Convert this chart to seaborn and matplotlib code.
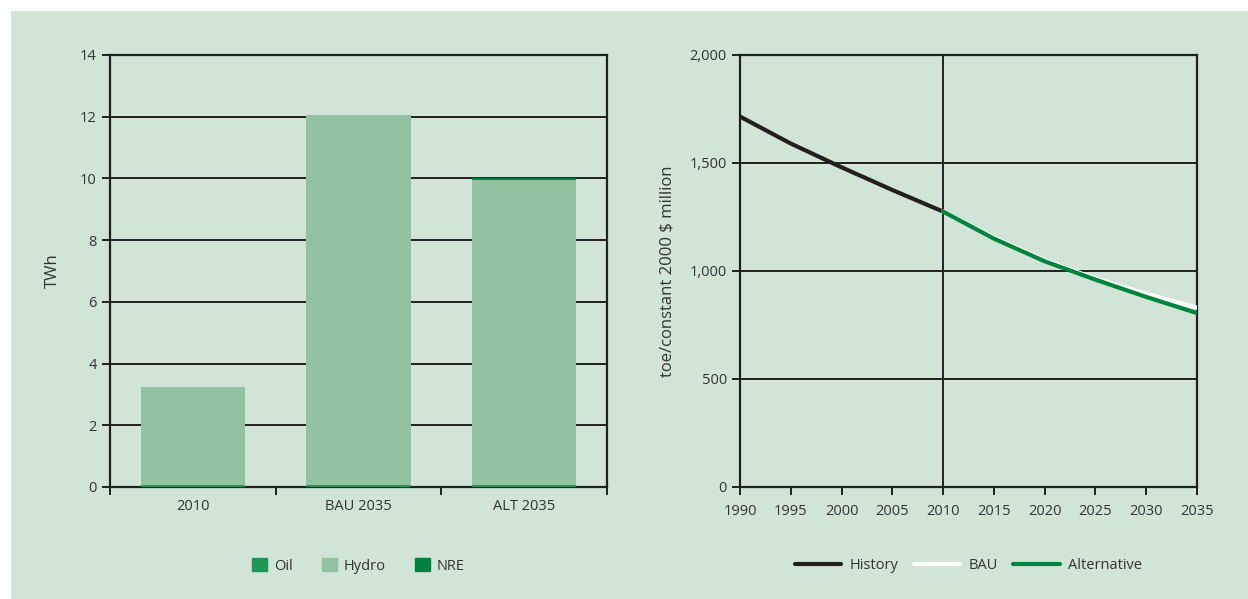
import matplotlib.pyplot as plt
import matplotlib.patches as mpatches
from matplotlib.lines import Line2D
from matplotlib.ticker import FuncFormatter
import seaborn as sns
import pandas as pd

# left panel: generation by source (TWh)
cases = ["2010", "BAU 2035", "ALT 2035"]
oil = [0.05, 0.05, 0.05]
hydro = [3.2, 12.0, 9.9]
nre = [0.0, 0.0, 0.06]

# right panel: energy intensity
hist_years = [1990, 1995, 2000, 2005, 2010]
hist_vals = [1715, 1590, 1480, 1375, 1275]
proj_years = [2010, 2015, 2020, 2025, 2030, 2035]
bau_vals = [1275, 1155, 1050, 965, 895, 830]
alt_vals = [1275, 1150, 1045, 960, 880, 805]

bg = "#D1E5D6"
c_oil = "#1E9656"
c_hydro = "#92C2A0"
c_nre = "#00833E"
c_alt = "#00843D"
ink = "#231F20"
txt = "#333333"

sns.set_style("white")
plt.rcParams["font.family"] = ["Open Sans", "DejaVu Sans"]
plt.rcParams["font.size"] = 10.5

fig = plt.figure(figsize=(12.48, 5.99), dpi=100, facecolor="white")
fig.add_artist(mpatches.Rectangle((11 / 1248, 0), 1, 1 - 11 / 599,
                                  transform=fig.transFigure,
                                  facecolor=bg, edgecolor="none", zorder=-10))

ax1 = fig.add_axes([110 / 1248, 1 - 487 / 599, 497 / 1248, 432 / 599])
ax2 = fig.add_axes([740 / 1248, 1 - 487 / 599, 457 / 1248, 432 / 599])

for ax in (ax1, ax2):
    ax.set_facecolor(bg)
    for s in ax.spines.values():
        s.set_color(ink)
        s.set_linewidth(1.6)
    ax.tick_params(left=True, bottom=True, colors=ink, labelcolor=txt,
                   labelsize=10.5, width=1.4, length=6)

# stacked bars drawn from the total downward
df = pd.DataFrame({"case": cases, "oil": oil, "hydro": hydro, "nre": nre})
df["t_hydro"] = df["oil"] + df["hydro"]
df["t_nre"] = df["t_hydro"] + df["nre"]
for col, colr in [("t_nre", c_nre), ("t_hydro", c_hydro), ("oil", c_oil)]:
    sns.barplot(data=df, x="case", y=col, color=colr, width=0.63,
                saturation=1, linewidth=0, ax=ax1, zorder=3)
ax1.set_xlim(-0.5, 2.5)
ax1.set_ylim(0, 14)
ax1.set_yticks(range(0, 15, 2))
ax1.yaxis.grid(True, color=ink, linewidth=1.4)
ax1.set_axisbelow(True)
ax1.set_xticks([-0.5, 0.5, 1.5, 2.5], minor=True)
ax1.tick_params(axis="x", which="major", length=0, pad=9)
ax1.tick_params(axis="x", which="minor", bottom=True, length=6, width=1.4, color=ink)
ax1.set_xlabel("")
ax1.set_ylabel("TWh", color=txt, fontsize=12, labelpad=14)

h1 = [mpatches.Patch(color=c_oil, label="Oil"),
      mpatches.Patch(color=c_hydro, label="Hydro"),
      mpatches.Patch(color=c_nre, label="NRE")]
ax1.legend(handles=h1, loc="upper center", bbox_to_anchor=(0.5, -0.135), ncol=3,
           frameon=False, handlelength=1.0, handleheight=1.0, columnspacing=2.0,
           handletextpad=0.5, fontsize=10.5, labelcolor=txt)

# lines
sns.lineplot(x=hist_years, y=hist_vals, color=ink, linewidth=3, ax=ax2, zorder=4)
sns.lineplot(x=proj_years, y=bau_vals, color="white", linewidth=3, ax=ax2, zorder=4)
sns.lineplot(x=proj_years, y=alt_vals, color=c_alt, linewidth=3, ax=ax2, zorder=5)
ax2.set_xlim(1990, 2035)
ax2.set_ylim(0, 2000)
ax2.set_xticks(range(1990, 2036, 5))
ax2.set_yticks(range(0, 2001, 500))
ax2.yaxis.set_major_formatter(FuncFormatter(lambda v, p: f"{int(v):,}"))
ax2.yaxis.grid(True, color=ink, linewidth=1.4)
ax2.axvline(2010, color=ink, linewidth=1.4, zorder=2)
ax2.set_axisbelow(True)
ax2.tick_params(axis="x", pad=6)
ax2.set_ylabel(r"toe/constant 2000 \$ million", color=txt, fontsize=12, labelpad=10)

h2 = [Line2D([], [], color=ink, linewidth=3, label="History"),
      Line2D([], [], color="white", linewidth=3, label="BAU"),
      Line2D([], [], color=c_alt, linewidth=3, label="Alternative")]
ax2.legend(handles=h2, loc="upper center", bbox_to_anchor=(0.5, -0.135), ncol=3,
           frameon=False, handlelength=3.2, columnspacing=1.0,
           handletextpad=0.6, fontsize=10.5, labelcolor=txt)

fig.savefig("out.png", dpi=100, facecolor="white")
